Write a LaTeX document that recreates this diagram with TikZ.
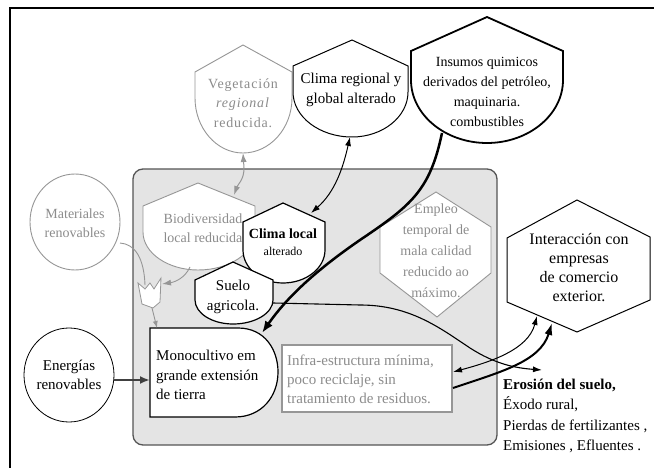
\documentclass[tikz,border=0pt]{standalone}
\usepackage{fontspec}
\setmainfont{Liberation Serif}
\usetikzlibrary{arrows.meta}
\definecolor{lgray}{RGB}{150,150,150}
\definecolor{tgray}{RGB}{140,140,140}
\definecolor{boxfill}{RGB}{228,228,228}
\definecolor{boxline}{RGB}{85,85,85}
\newcommand{\shld}[7]{%
 (#1,#6) -- (#1,#5) -- (#3,#4) -- (#2,#5) -- (#2,#6)
 .. controls (#2,{#6+0.55*(#7-#6)}) and ({#3+0.55*(#2-#3)},#7) .. (#3,#7)
 .. controls ({#3-0.55*(#3-#1)},#7) and (#1,{#6+0.55*(#7-#6)}) .. (#1,#6) -- cycle}
\tikzset{
  txt/.style={inner sep=0pt, align=center, font=\fontsize{14}{19.5}\selectfont},
  btxt/.style={txt, font=\fontsize{15}{19.5}\selectfont},
  gtxt/.style={txt, text=tgray},
  graysh/.style={draw=lgray, fill=white, line width=0.9pt},
  blacksh/.style={draw=black, fill=white, line width=1pt},
  tip/.style={-{Latex[length=9pt,width=6pt]}},
  dtip/.style={{Latex[length=9pt,width=6pt]}-{Latex[length=9pt,width=6pt]}},
}
\begin{document}
\begin{tikzpicture}[x=1pt,y=-1pt]
\useasboundingbox (0,0) rectangle (654,468);
% outer frame
\draw[line width=2pt] (10,480) -- (10,8) -- (670,8);
% gray box
\draw[draw=boxline, fill=boxfill, line width=1.3pt, rounded corners=10pt] (133,169) rectangle (497,445);

% Vegetacion
\draw[graysh] \shld{195}{292}{243}{45}{72}{98}{153};
\node[gtxt, font=\fontsize{14}{19.5}\selectfont\addfontfeature{LetterSpace=6}] (veg) at (243,103) {Vegetación\\\textit{regional}\\reducida.};
% Clima regional
\draw[blacksh] \shld{293}{408}{352}{40}{66}{92}{137};
\node[btxt] (creg) at (351,90) {Clima regional y\\global alterado};
% Insumos
\draw[blacksh, line width=1.8pt] \shld{411}{563}{487}{17}{51}{80}{143};
\node[txt, font=\fontsize{14}{20}\selectfont] (ins) at (487,92) {Insumos quimicos\\derivados del petróleo,\\maquinaria.\\combustibles};
% Materiales
\draw[graysh] (75,222) ellipse[x radius=45, y radius=48];
\node[gtxt] (mat) at (75,223) {Materiales\\renovables};
% Energias
\draw[blacksh, line width=0.8pt] (69,375) ellipse[x radius=45, y radius=47];
\node[btxt] (ener) at (69,375) {Energías\\renovables};

% Biodiversidad
\draw[graysh] \shld{143}{255}{198}{183}{206}{232}{270};
\node[gtxt] (biod) at (203,228) {Biodiversidad\\local reducida};
% Clima local
\draw[blacksh, line width=1.2pt] \shld{243}{325}{283}{203}{222}{250}{283};
\node[txt] (cloc) at (283,242) {\textbf{Clima local}\\[-2pt]{\fontsize{12}{14}\selectfont alterado}};
% Suelo
\draw[blacksh, line width=1.2pt] \shld{195}{273}{233}{262}{280}{300}{324};
\node[btxt] (suelo) at (233,297) {Suelo\\agricola.};

% Empleo hexagon
\draw[graysh] (380,227) -- (436,192) -- (491,227) -- (491,273) -- (437,317) -- (380,273) -- cycle;
\node[gtxt, font=\fontsize{14}{21}\selectfont] (emp) at (436,251) {Empleo\\temporal de\\mala calidad\\reducido ao\\máximo.};

% Interaccion hexagon
\draw[blacksh] (507,238) -- (577,200) -- (650,237) -- (650,300) -- (577,332) -- (507,302) -- cycle;
\node[txt, font=\fontsize{16}{19}\selectfont] (inter) at (579,268) {Interacción con\\empresas\\de comercio\\exterior.};

% Monocultivo
\draw[blacksh, line width=1.2pt] (150,328) -- (238,328) .. controls (265,328) and (278,350) .. (278,372)
  .. controls (278,396) and (262,417) .. (235,417) -- (150,417) -- cycle;
\node[btxt, align=left, anchor=west] (mono) at (156,375) {Monocultivo em\\grande extensión\\de tierra};

% Infra
\draw[draw=lgray, fill=white, line width=1.2pt] (282,345) rectangle (452,412);
\node[gtxt, font=\fontsize{15}{19}\selectfont, align=left, anchor=west] (infra) at (287,379) {Infra-estructura mínima,\\poco reciclaje, sin\\tratamiento de residuos.};

% tulip
\draw[draw=lgray, fill=white, line width=0.8pt] (138,283) -- (145,289) -- (150,283) -- (154,289) -- (161,278) -- (160,302) -- (153,308) -- (142,304) -- cycle;

% Erosion text
\node[txt, align=left, anchor=west, font=\fontsize{15}{20.5}\selectfont] (eros) at (503,416)
  {\textbf{Erosión del suelo,}\\Éxodo rural,\\Pierdas de fertilizantes ,\\Emisiones , Efluentes .};

% coordinates for connectors
\coordinate (vegB) at (243,153);
\coordinate (biodT) at (234,195);
\coordinate (cregB) at (350,137);
\coordinate (clocT) at (311,213);
\coordinate (insB) at (442,133);
\coordinate (monoT) at (262,333);
\coordinate (sueloR) at (273,303);
\coordinate (erosT) at (542,370);
\coordinate (infraR1) at (453,372);
\coordinate (interB1) at (537,316);
\coordinate (infraR2) at (453,388);
\coordinate (interB2) at (552,323);
\coordinate (enerR) at (114,380);
\coordinate (monoL) at (150,380);
\coordinate (matR) at (120,243);
\coordinate (tulT) at (145,285);
\coordinate (biodB) at (190,267);
\coordinate (tulR) at (162,284);
\coordinate (tulB) at (152,308);
\coordinate (monoT2) at (157,328);

% connectors
\draw[lgray, line width=1pt, dtip] (vegB) -- (244,168) .. controls (244,180) and (238,184) .. (biodT);
\draw[black, line width=1pt, dtip] (cregB) .. controls (343,168) and (335,192) .. (clocT);
\draw[black, line width=2.5pt, -{Latex[length=12pt,width=9pt]}] (insB) .. controls (430,190) and (412,205) .. (360,240) .. controls (312,273) and (285,300) .. (monoT);
\draw[black, line width=1.1pt, tip] (sueloR) -- (360,305) .. controls (410,305) and (440,328) .. (470,348) .. controls (495,364) and (515,368) .. (erosT);
\draw[black, line width=1pt, dtip] (infraR1) .. controls (490,362) and (528,350) .. (interB1);
\draw[black, line width=2pt, -{Latex[length=12pt,width=8pt]}] (infraR2) .. controls (500,372) and (540,362) .. (interB2);
\draw[black!75, line width=2.5pt, -{Latex[length=10pt,width=8pt]}] (enerR) -- (monoL);
\draw[lgray, line width=0.9pt] (matR) .. controls (135,244) and (144,258) .. (tulT);
\draw[lgray, line width=0.9pt, tip] (biodB) .. controls (185,278) and (175,282) .. (tulR);
\draw[lgray, line width=0.9pt, -{Latex[length=7pt,width=5pt]}] (tulB) -- (monoT2);
\end{tikzpicture}
\end{document}
